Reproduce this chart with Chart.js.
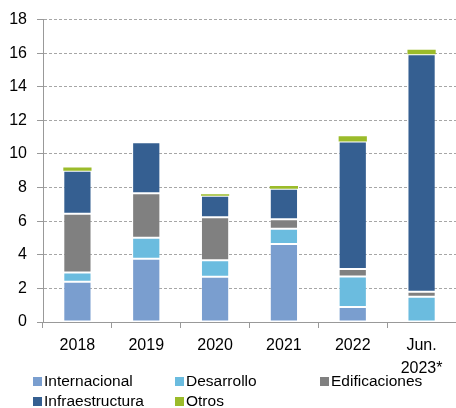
<!DOCTYPE html>
<html>
<head>
<meta charset="utf-8">
<script src="https://cdn.jsdelivr.net/npm/chart.js@4.4.0/dist/chart.umd.min.js"></script>
<style>
  html, body { margin: 0; padding: 0; background: #fff; }
  #wrap { position: relative; width: 456px; height: 408px; overflow: hidden; }
  #c { position: absolute; left: 0; top: 0; }
  #legend { position: absolute; left: 33px; top: 371px; display: grid;
            grid-template-columns: 142px 145px auto; grid-auto-rows: 20px;
            font-family: "Liberation Sans", Arial, sans-serif; font-size: 15.5px; color: #000; }
  .item { display: flex; align-items: center; line-height: 20px; white-space: nowrap; }
  .box { width: 9px; height: 9px; margin-right: 2px; flex: none; }
</style>
</head>
<body>
<div id="wrap">
  <canvas id="c" width="456" height="408"></canvas>
  <div id="legend"></div>
</div>
<script>
const categories = ['2018', '2019', '2020', '2021', '2022', ['Jun.', '2023*']];
const seriesNames = ['Internacional', 'Desarrollo', 'Edificaciones', 'Infraestructura', 'Otros'];
const internacional   = [2.40, 3.77, 2.70, 4.65, 0.90, 0.00];
const desarrollo      = [0.55, 1.25, 0.97, 0.90, 1.81, 1.51];
const edificaciones   = [3.50, 2.64, 2.57, 0.57, 0.45, 0.29];
const infraestructura = [2.55, 3.04, 1.27, 1.81, 7.59, 14.14];
const otros           = [0.20, 0.00, 0.09, 0.17, 0.30, 0.26];
const yTicks = [0, 2, 4, 6, 8, 10, 12, 14, 16, 18];

const colors = ['#7a9ecf', '#6bbcdf', '#808080', '#355f91', '#9bbb2a'];
const values = [internacional, desarrollo, edificaciones, infraestructura, otros];

const datasets = seriesNames.map((name, i) => ({
  label: name,
  data: values[i],
  backgroundColor: colors[i],
  borderColor: 'rgba(255,255,255,0.3)',
  borderWidth: i === 4 ? 0 : 1,
  borderSkipped: false,
  barPercentage: 0.41,
  categoryPercentage: 1.0,
  stack: 's'
}));

const font = { family: '"Liberation Sans", Arial, sans-serif', size: 16 };

new Chart(document.getElementById('c'), {
  type: 'bar',
  data: { labels: categories, datasets },
  options: {
    responsive: false,
    animation: false,
    devicePixelRatio: 1,
    layout: { padding: { top: 7, right: 0, bottom: 0, left: 0 } },
    plugins: { legend: { display: false }, tooltip: { enabled: false } },
    scales: {
      x: {
        stacked: true,
        grid: { display: true, drawOnChartArea: false, drawTicks: true, tickLength: 6,
                color: '#999999', offset: true },
        border: { display: true, color: '#999999', width: 1 },
        ticks: { font: { ...font, lineHeight: 1.44 }, color: '#000', padding: 6,
                 maxRotation: 0, autoSkip: false },
        afterFit: s => { s.height = 86; }
      },
      y: {
        stacked: true,
        min: 0, max: 18,
        afterBuildTicks: s => { s.ticks = yTicks.map(v => ({ value: v })); },
        grid: { color: '#a6a6a6', tickLength: 6, tickColor: '#999999', tickBorderDash: [] },
        border: { display: true, color: '#999999', width: 1, dash: [3, 2] },
        ticks: { font, color: '#000', padding: 10 },
        afterFit: s => { s.width = 43; }
      }
    }
  }
});

const leg = document.getElementById('legend');
seriesNames.forEach((name, i) => {
  const it = document.createElement('div');
  it.className = 'item';
  const b = document.createElement('span');
  b.className = 'box';
  b.style.background = colors[i];
  const t = document.createElement('span');
  t.textContent = name;
  it.appendChild(b); it.appendChild(t);
  leg.appendChild(it);
});
</script>
</body>
</html>
